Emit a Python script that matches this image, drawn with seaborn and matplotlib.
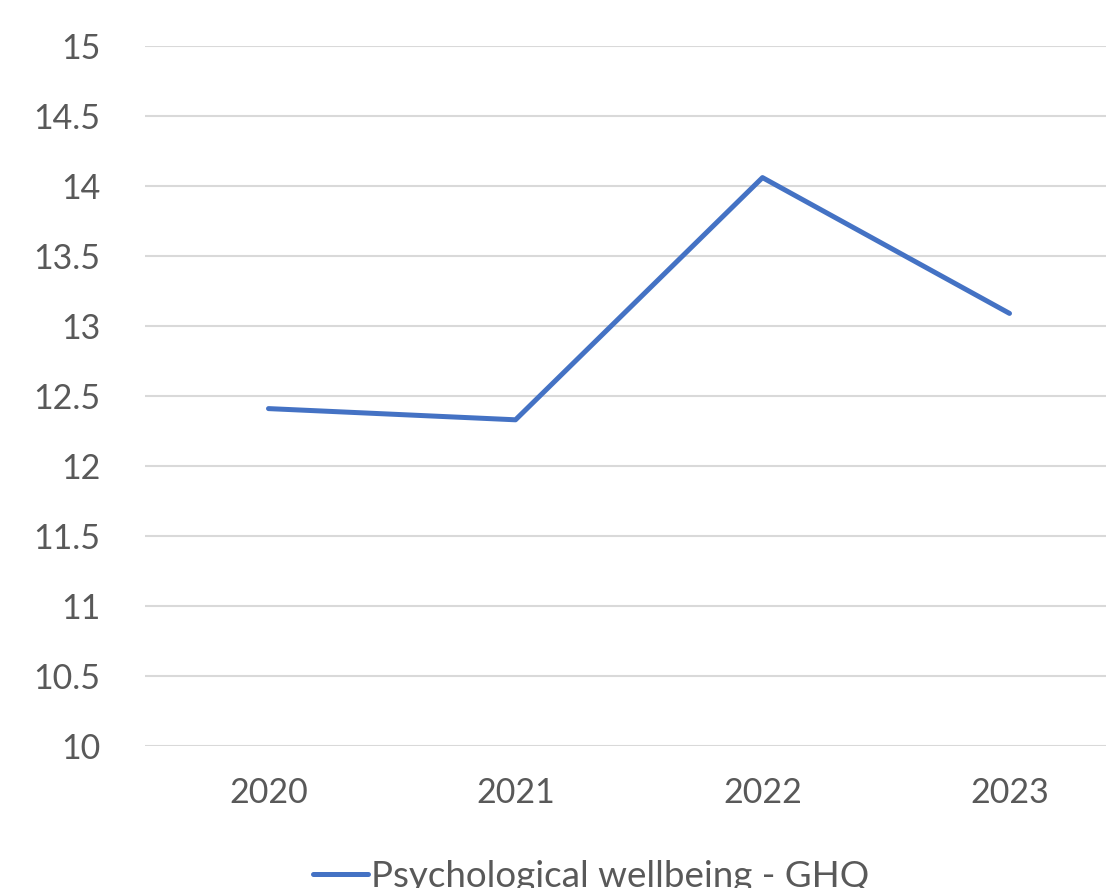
import pandas as pd
import numpy as np
import matplotlib.pyplot as plt
import seaborn as sns

# data
years = ["2020", "2021", "2022", "2023"]
ghq = [12.41, 12.33, 14.06, 13.09]
series_name = "Psychological wellbeing - GHQ"

df = pd.DataFrame({"Year": years, "Score": ghq})

sns.set_style("white")
plt.rcParams['font.family'] = ['Lato', 'DejaVu Sans']

fig = plt.figure(figsize=(11.06, 8.88), dpi=100)
ax = fig.add_axes([145/1106, 142/888, 988/1106, 700/888])

sns.lineplot(data=df, x="Year", y="Score", color="#4472C4", linewidth=3.6,
             label=series_name, ax=ax, sort=False)

ax.set_ylim(10, 15)
ax.set_xlim(-0.5, 3.5)
ax.set_yticks(np.arange(10, 15.01, 0.5))
ax.set_yticklabels([f"{v:g}" for v in np.arange(10, 15.01, 0.5)])
ax.yaxis.grid(True, color="#D9D9D9", linewidth=1.5)
ax.set_axisbelow(True)
for s in ax.spines.values():
    s.set_visible(False)
ax.tick_params(axis="both", length=0, labelsize=24.5, labelcolor="#595959")
ax.tick_params(axis="y", pad=32)
ax.tick_params(axis="x", pad=22)
ax.set_xlabel("")
ax.set_ylabel("")

ax.legend(loc="center", bbox_to_anchor=(591/1106, 1 - 876/888),
          bbox_transform=fig.transFigure, frameon=False, fontsize=26.5,
          labelcolor="#595959", handlelength=1.5, handletextpad=0.08)

fig.savefig("out.png", dpi=100)
